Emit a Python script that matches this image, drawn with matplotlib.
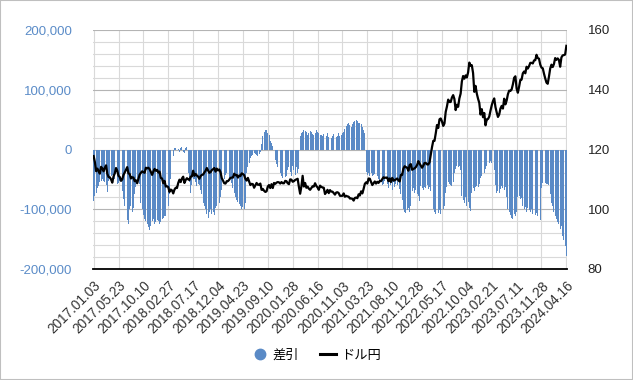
import matplotlib.pyplot as plt
from matplotlib.lines import Line2D
from matplotlib.patches import Rectangle
from matplotlib.ticker import FuncFormatter, MultipleLocator
import numpy as np
import pandas as pd

plt.rcParams['font.family'] = ['Liberation Sans', 'Noto Sans CJK JP', 'DejaVu Sans']

BLUE = '#5a8ac6'
LABEL_BLUE = '#5b8cc8'
GRID_MAJOR = '#b4b4b4'
GRID_MINOR = '#d9d9d9'

# weekly, 2017.01.03 .. 2024.04.16 (381 weeks)
start_date = '2017-01-03'
n_weeks = 381

# 差引 (thousands), weekly
net_k = [
    -86, -78, -72, -65, -61, -55, -53, -50, -52, -55, -60, -71, -52, -50, -45, -42, -48, -50, -55, -58,
    -56, -52, -60, -70, -83, -95, -110, -118, -125, -100, -95, -105, -98, -75, -62, -55, -50, -58, -90, -100,
    -110, -117, -120, -125, -130, -135, -128, -120, -117, -125, -122, -118, -120, -124, -122, -117, -115, -112, -111, -100,
    -95, -75, -50, -25, -11, 3, 2, -3, 1, -5, 2, 4, -4, -6, 3, 5, -40, -55, -72, -60,
    -50, -50, -55, -61, -58, -60, -67, -75, -89, -95, -100, -108, -114, -105, -100, -108, -104, -110, -98, -95,
    -108, -90, -80, -67, -56, -50, -42, -39, -45, -50, -48, -56, -65, -72, -80, -85, -88, -92, -95, -100,
    -96, -100, -90, -39, -30, -22, -15, -11, -9, -6, -8, -10, -11, -7, -4, 10, 22, 30, 33, 32,
    28, 24, 15, 11, 6, -5, -17, -25, -30, -35, -39, -44, -48, -50, -46, -44, -35, -30, -38, -44,
    -28, -35, -42, -30, -40, -33, 22, 28, 30, 33, 31, 29, 25, 27, 31, 30, 26, 24, 28, 32,
    30, 27, 25, 24, 22, 26, 20, 23, 27, 21, 25, 19, 22, 26, 24, 21, 23, 27, 22, 25,
    28, 30, 35, 39, 42, 44, 41, 38, 43, 46, 48, 49, 47, 44, 45, 42, 38, 33, 28, -38,
    -42, -40, -44, -39, -45, -43, -41, -46, -44, -50, -55, -48, -60, -57, -52, -62, -58, -65, -55, -60,
    -67, -54, -62, -58, -60, -50, -66, -75, -85, -100, -104, -106, -102, -98, -104, -95, -70, -65, -72, -68,
    -75, -78, -86, -61, -64, -67, -62, -65, -60, -66, -63, -70, -95, -100, -104, -108, -110, -106, -102, -108,
    -104, -100, -95, -72, -62, -55, -58, -60, -61, -55, -40, -33, -28, -30, -28, -35, -78, -85, -90, -80,
    -95, -88, -98, -103, -72, -65, -70, -62, -61, -63, -58, -48, -44, -42, -40, -33, -28, -25, -22, -19,
    -23, -28, -35, -60, -72, -70, -72, -66, -61, -65, -67, -63, -80, -100, -105, -110, -115, -117, -108, -112,
    -104, -80, -78, -83, -82, -94, -100, -96, -104, -98, -102, -105, -100, -108, -104, -110, -106, -111, -128, -118,
    -65, -56, -55, -56, -58, -57, -60, -75, -89, -95, -105, -111, -117, -122, -125, -133, -128, -144, -152, -161,
    -178,
]

# ドル円, weekly
usdjpy = [
    117.8, 115.8, 112.7, 113.6, 112.8, 111.9, 114.2, 113.6, 112.7, 113.9, 114.7, 111.9, 110.8, 110.7, 110.0, 108.9, 111.0, 112.0, 113.8, 112.9,
    111.2, 110.8, 109.5, 110.0, 111.5, 112.3, 113.2, 114.1, 112.0, 111.8, 110.3, 110.7, 110.6, 109.4, 109.7, 108.7, 110.1, 111.6, 112.2, 112.7,
    112.4, 112.2, 113.9, 113.7, 113.9, 113.4, 112.5, 111.5, 112.6, 113.5, 112.9, 113.2, 112.3, 112.6, 110.5, 110.3, 108.7, 109.5, 107.6, 107.7,
    107.4, 105.8, 106.6, 106.3, 105.3, 106.6, 107.2, 107.1, 108.8, 109.9, 109.1, 110.3, 110.9, 108.8, 109.8, 110.4, 110.0, 109.8, 110.9, 111.0,
    112.9, 111.2, 111.8, 111.3, 110.9, 110.2, 111.1, 111.5, 111.6, 112.3, 112.9, 113.8, 113.0, 112.2, 112.4, 113.1, 113.4, 113.8, 112.6, 113.6,
    113.0, 113.3, 112.4, 110.4, 109.6, 108.7, 108.6, 109.4, 109.4, 109.9, 110.5, 110.6, 110.6, 111.9, 111.4, 111.5, 110.6, 111.3, 111.1, 112.0,
    111.8, 111.4, 110.2, 109.6, 110.5, 109.3, 108.1, 108.5, 108.4, 107.2, 108.0, 108.8, 108.2, 108.2, 108.6, 106.5, 106.8, 106.2, 105.8, 106.0,
    107.6, 108.1, 107.1, 108.4, 107.1, 108.8, 108.5, 108.9, 109.1, 109.0, 108.6, 109.1, 108.7, 108.7, 109.5, 109.4, 108.7, 108.4, 110.0, 109.9,
    109.2, 109.4, 109.8, 110.0, 110.2, 107.5, 105.2, 107.6, 111.2, 107.6, 108.8, 107.2, 107.6, 106.9, 106.5, 107.1, 107.7, 107.6, 108.7, 107.8,
    107.3, 106.5, 107.9, 107.5, 107.3, 107.2, 105.1, 105.7, 106.5, 105.4, 106.4, 105.9, 105.9, 105.4, 104.9, 105.6, 105.7, 105.4, 104.5, 104.5,
    104.5, 105.3, 104.2, 104.5, 104.3, 104.2, 103.6, 103.6, 103.5, 102.9, 103.8, 103.9, 103.7, 105.0, 104.6, 106.0, 105.3, 106.8, 108.5, 109.0,
    108.6, 110.3, 110.2, 109.1, 108.1, 108.7, 109.3, 108.6, 109.2, 108.8, 109.5, 109.4, 110.1, 110.7, 110.5, 110.6, 110.6, 109.4, 110.3, 109.1,
    110.5, 109.6, 109.7, 110.0, 110.3, 109.7, 109.3, 111.5, 111.5, 113.6, 114.4, 114.1, 113.9, 112.9, 114.8, 115.1, 113.2, 113.5, 113.7, 114.1,
    114.8, 116.1, 115.3, 114.6, 113.9, 114.6, 115.5, 115.5, 115.0, 115.0, 115.7, 118.3, 120.8, 122.9, 122.9, 125.4, 128.2, 127.2, 130.1, 130.4,
    129.4, 127.9, 128.7, 132.6, 134.4, 136.7, 135.9, 135.9, 137.4, 138.2, 136.9, 133.2, 135.0, 134.3, 137.1, 138.7, 142.8, 144.6, 143.7, 144.8,
    144.1, 145.8, 149.1, 148.0, 148.2, 145.6, 139.3, 141.3, 138.7, 137.0, 135.6, 131.7, 133.5, 130.8, 132.2, 128.1, 130.1, 130.2, 131.0, 133.0,
    134.8, 136.2, 137.1, 134.2, 132.4, 130.9, 131.7, 133.7, 134.6, 133.7, 137.0, 135.1, 136.4, 138.5, 139.7, 139.6, 140.1, 141.8, 144.0, 144.5,
    140.4, 139.0, 141.0, 143.3, 143.4, 145.5, 146.1, 145.5, 147.7, 147.1, 147.9, 149.0, 149.0, 148.8, 149.8, 149.9, 151.7, 150.6, 150.4, 148.4,
    147.4, 147.2, 145.4, 143.8, 142.4, 142.0, 144.4, 147.1, 148.4, 147.6, 148.6, 150.6, 150.0, 150.5, 150.0, 147.7, 150.8, 151.5, 151.6, 151.8,
    154.7,
]

dates = pd.date_range(start_date, periods=n_weeks, freq='7D')
df = pd.DataFrame({'date': dates, 'net': np.array(net_k) * 1000, 'usdjpy': usdjpy})
x = np.arange(len(df))
tick_idx = x[::20]
tick_labels = df['date'].dt.strftime('%Y.%m.%d').iloc[::20]

fig = plt.figure(figsize=(6.33, 3.8), dpi=100)
fig.patches.append(Rectangle((0, 0), 1, 1, transform=fig.transFigure,
                             fill=False, edgecolor='#bfbfbf', linewidth=1.5))
ax = fig.add_axes([93 / 633, 1 - 269 / 380, (567 - 93) / 633, (269 - 30) / 380])

ax.bar(x, df['net'], width=0.75, color=BLUE, edgecolor='none', zorder=2)
ax.set_xlim(-0.5, len(df) - 0.5)
ax.set_ylim(-200000, 200000)
ax.yaxis.set_major_locator(MultipleLocator(100000))
ax.yaxis.set_minor_locator(MultipleLocator(20000))
ax.yaxis.set_major_formatter(FuncFormatter(lambda v, _: f'{int(v):,}'))
ax.grid(axis='y', which='major', color=GRID_MAJOR, linewidth=0.8, zorder=0)
ax.grid(axis='y', which='minor', color=GRID_MINOR, linewidth=0.8, zorder=0)
ax.set_xticks(tick_idx)
ax.set_xticklabels(tick_labels, rotation=45, ha='right', rotation_mode='anchor',
                   fontsize=9.8, color='#333333')
ax.grid(axis='x', color=GRID_MINOR, linewidth=0.8, zorder=0)
ax.set_axisbelow(True)
ax.tick_params(axis='y', which='both', length=0, labelsize=9.5, labelcolor=LABEL_BLUE, pad=15)
ax.tick_params(axis='x', length=0, pad=7)
for side in ['top', 'right', 'left']:
    ax.spines[side].set_visible(False)
ax.spines['bottom'].set_color('black')
ax.spines['bottom'].set_linewidth(1.3)

ax2 = ax.twinx()
ax2.plot(x, df['usdjpy'], color='black', linewidth=1.6, zorder=3)
ax2.set_ylim(80, 160)
ax2.yaxis.set_major_locator(MultipleLocator(20))
ax2.tick_params(axis='y', length=0, labelsize=9.5, labelcolor='#222222', pad=15)
for side in ['top', 'right', 'left', 'bottom']:
    ax2.spines[side].set_visible(False)

handles = [
    Line2D([], [], marker='o', linestyle='none', color=BLUE, markersize=7.5),
    Line2D([], [], color='black', linewidth=2.2),
]
fig.legend(handles, ['差引', 'ドル円'], loc='center', bbox_to_anchor=(0.5, 1 - 355 / 380),
           ncol=2, frameon=False, handlelength=1.2, handletextpad=0.4, columnspacing=1.6,
           prop={'family': ['Noto Sans CJK JP', 'DejaVu Sans'], 'size': 9.5})

fig.savefig('out.png', dpi=100)
